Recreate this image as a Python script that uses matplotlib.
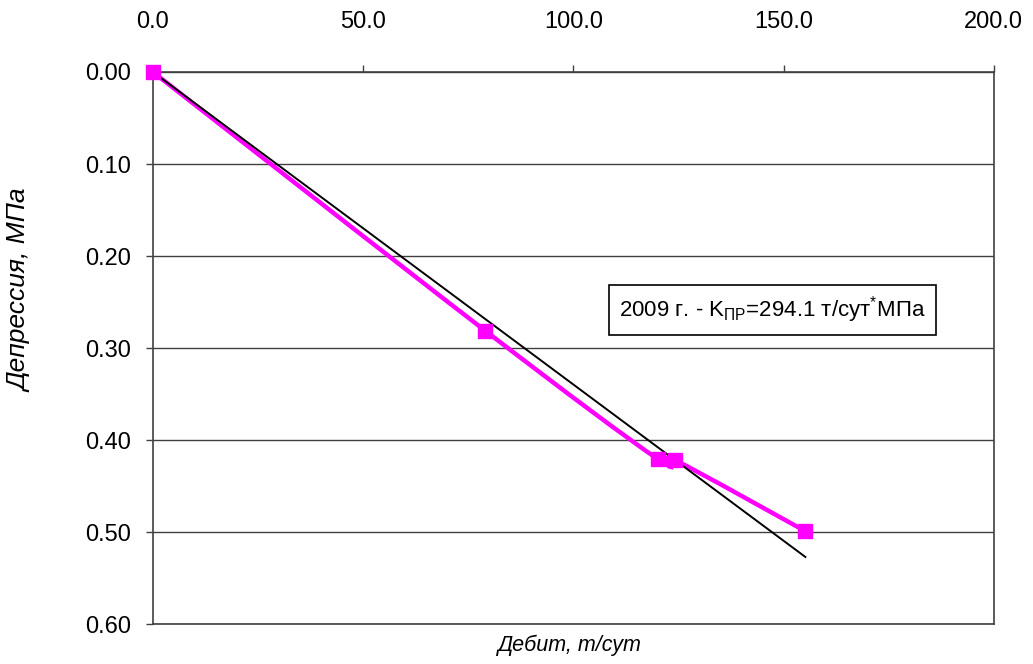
import numpy as np
import matplotlib
matplotlib.use('Agg')
import matplotlib.pyplot as plt
from matplotlib.path import Path
from matplotlib.patches import PathPatch

plt.rcParams['font.family'] = ['Liberation Sans', 'DejaVu Sans']
plt.rcParams['mathtext.fontset'] = 'custom'
plt.rcParams['mathtext.rm'] = 'Liberation Sans'
plt.rcParams['mathtext.it'] = 'Liberation Sans:italic'

# Measured points (debit vs depression)
debit = [0.0, 79.0, 120.2, 124.3, 155.2]
depression = [0.0, 0.281, 0.421, 0.422, 0.499]

# Linear trend line endpoints
trend_x = [0.0, 155.2]
trend_y = [0.0, 0.527]

x_ticks = [0, 50, 100, 150, 200]
y_ticks = [0.0, 0.1, 0.2, 0.3, 0.4, 0.5, 0.6]

fig = plt.figure(figsize=(10.33, 6.64), dpi=100)
ax = fig.add_axes([0.148, 0.060, 0.814, 0.8316])

ax.set_xlim(0, 200)
ax.set_ylim(0.6, 0.0)
ax.xaxis.tick_top()
ax.set_xticks(x_ticks)
ax.set_yticks(y_ticks)
ax.xaxis.set_major_formatter(matplotlib.ticker.FormatStrFormatter('%.1f'))
ax.yaxis.set_major_formatter(matplotlib.ticker.FormatStrFormatter('%.2f'))
ax.tick_params(axis='x', direction='out', length=5, width=1, colors='#404040',
               labelcolor='black', labelsize=17, pad=23)
ax.tick_params(axis='y', direction='out', length=5, width=1, colors='#404040',
               labelcolor='black', labelsize=17, pad=11)
for s in ax.spines.values():
    s.set_color('#404040')
    s.set_linewidth(1.2)
ax.yaxis.grid(True, color='#404040', linewidth=1.0)
ax.set_axisbelow(True)

# smoothed curve (Catmull-Rom style bezier, like Excel smoothed line)
pts = np.column_stack([debit, depression])
n = len(pts)
verts = [pts[0]]
codes = [Path.MOVETO]
for i in range(n - 1):
    p_prev = pts[max(i - 1, 0)]
    p0 = pts[i]
    p1 = pts[i + 1]
    p_next = pts[min(i + 2, n - 1)]
    c1 = p0 + (p1 - p_prev) / 6.0
    c2 = p1 - (p_next - p0) / 6.0
    verts += [c1, c2, p1]
    codes += [Path.CURVE4] * 3
curve = PathPatch(Path(verts, codes), facecolor='none', edgecolor='#FF00FF',
                  linewidth=3.2, zorder=3)
ax.add_patch(curve)

ax.plot(trend_x, trend_y, color='black', linewidth=1.4, zorder=4)
ax.plot(debit, depression, linestyle='none', marker='s', markersize=10,
        color='#FF00FF', zorder=5, clip_on=False)

ax.text(0.737, 0.569, '2009 г. - K$_{\\mathrm{ПР}}$=294.1 т/сут$^{*}$МПа',
        transform=ax.transAxes, ha='center', va='center', fontsize=16,
        bbox=dict(boxstyle='square,pad=0.45', fc='white', ec='black', lw=1.2),
        zorder=6)

fig.text(0.020, 0.562, 'Депрессия, МПа', rotation=90, ha='center', va='center',
         fontsize=19, style='italic')
fig.text(0.552, 0.028, 'Дебит, т/сут', ha='center', va='center',
         fontsize=15.5, style='italic')

fig.savefig('out.png', dpi=100)
